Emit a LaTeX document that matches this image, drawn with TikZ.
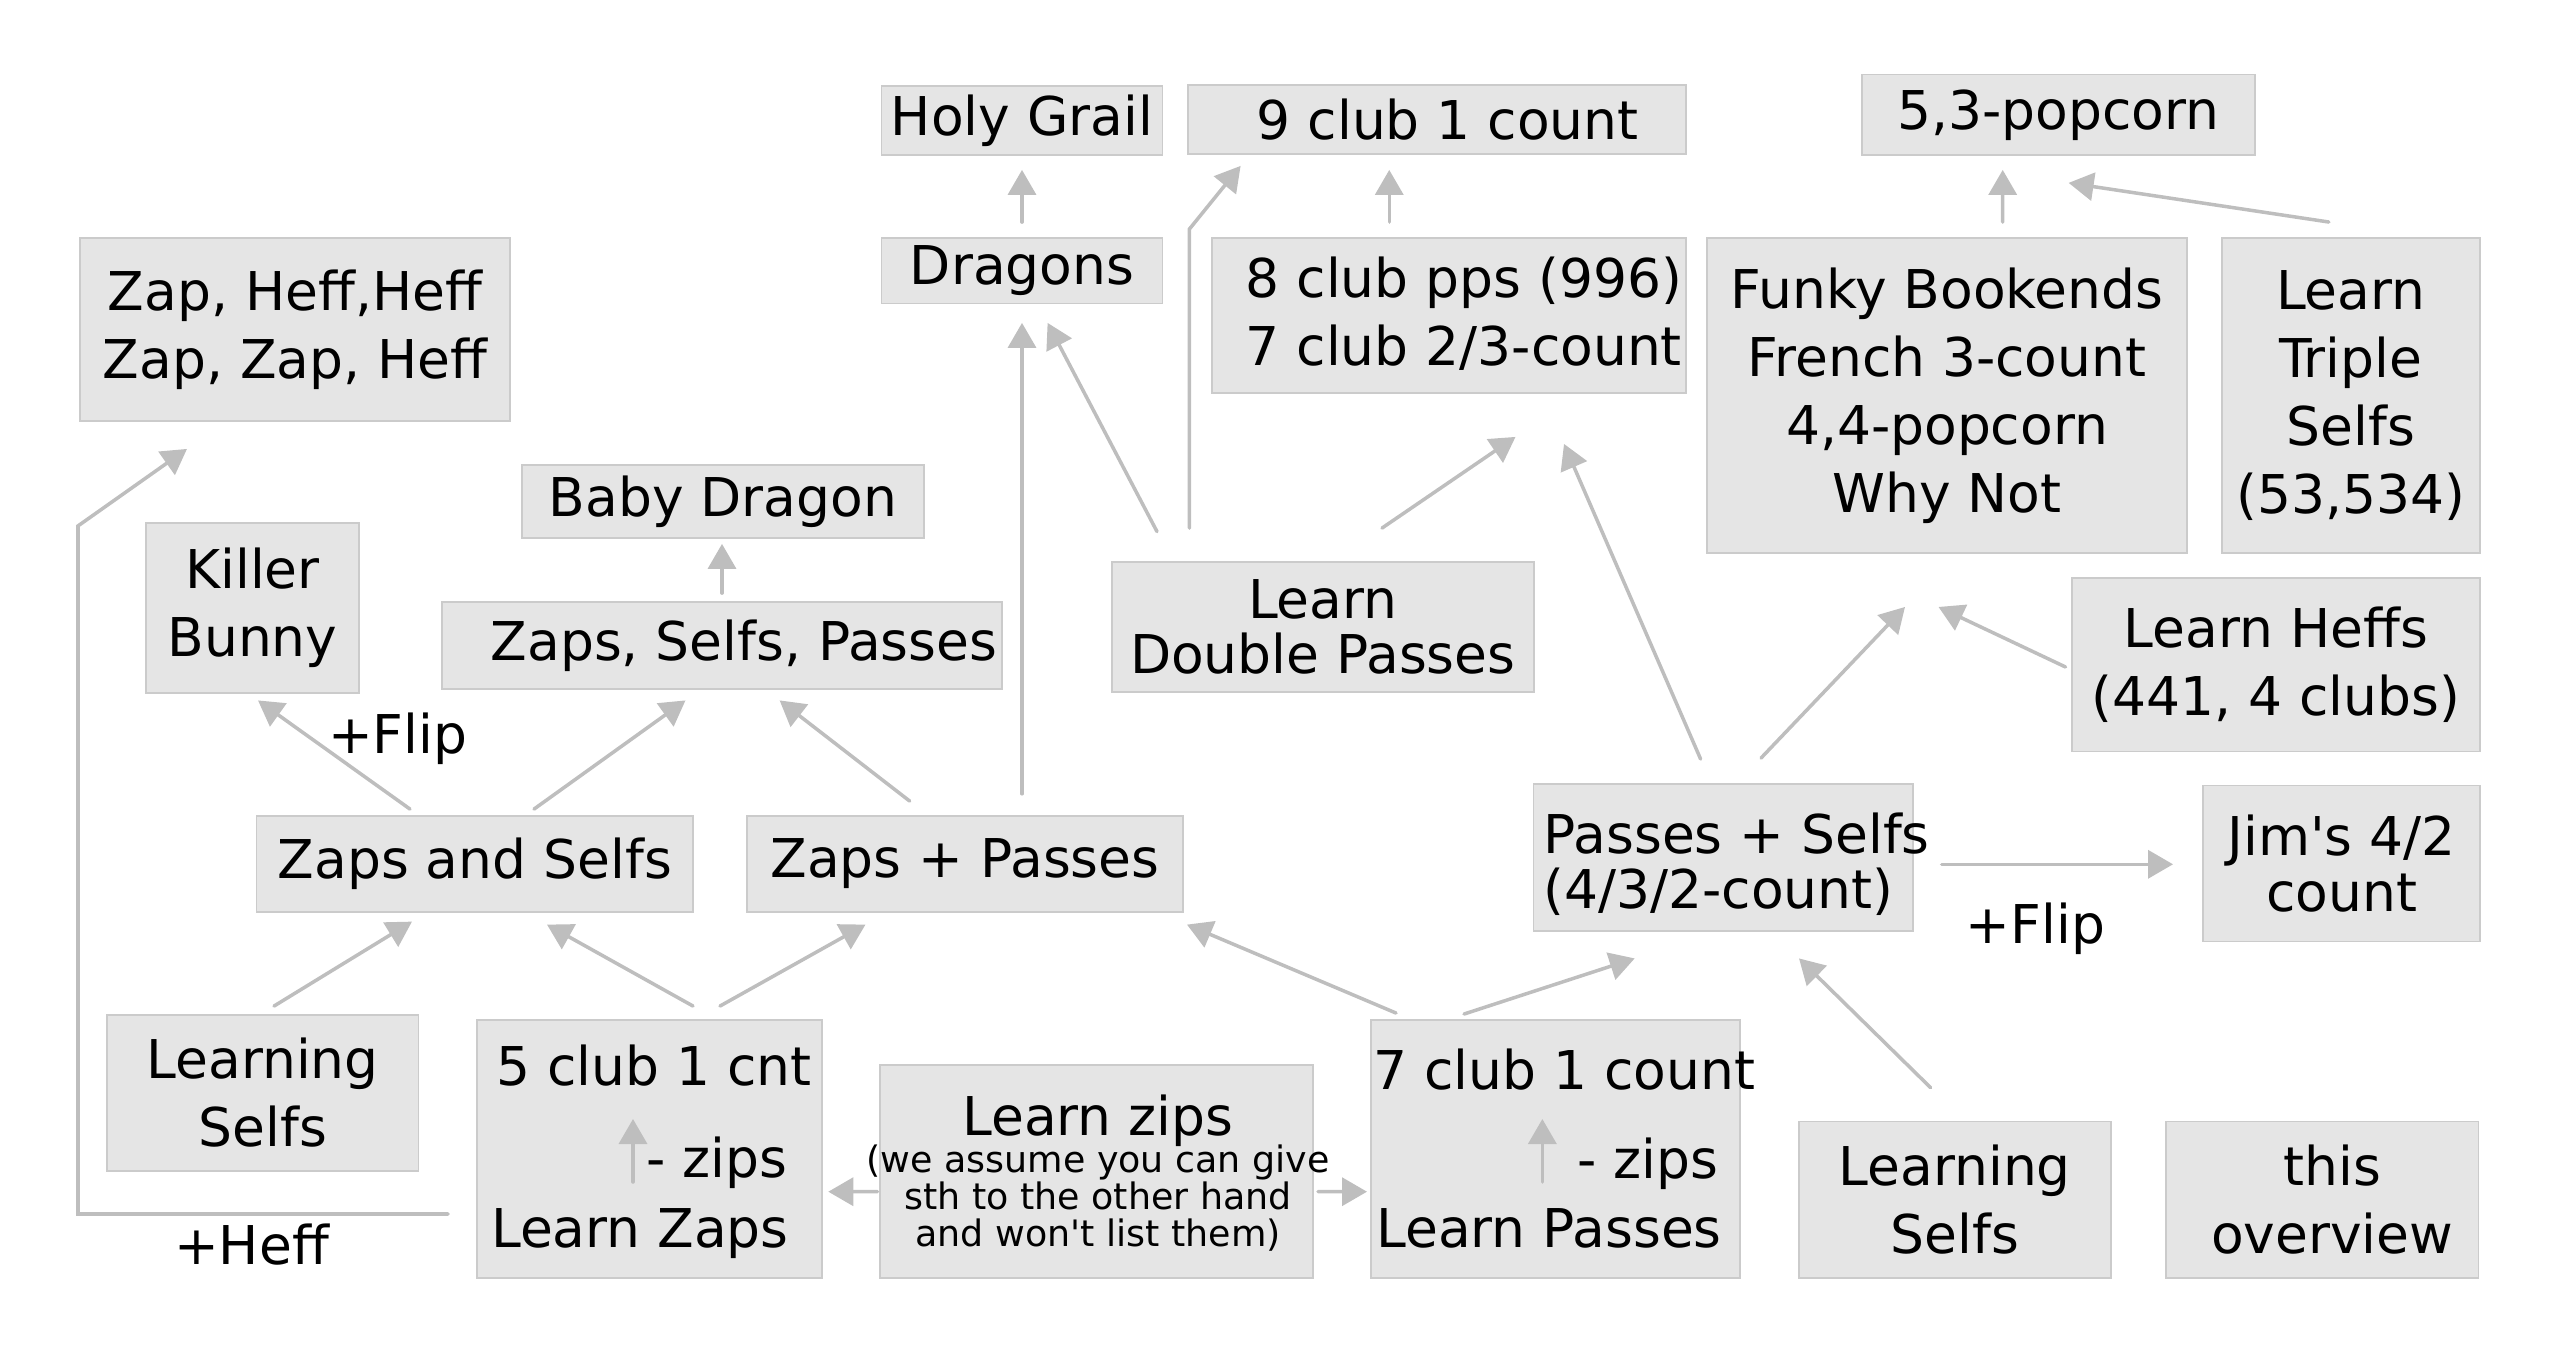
\documentclass[tikz,border=0pt]{standalone}
\usepackage{fontspec}
\setmainfont{DejaVu Sans}
\usepackage{xcolor}
\usetikzlibrary{arrows.meta,calc}

\definecolor{boxfill}{HTML}{E5E5E5}
\definecolor{boxline}{HTML}{CBCBCB}
\definecolor{arrgray}{HTML}{BEBEBE}

\begin{document}
\begin{tikzpicture}[x=0.01cm, y=-0.01cm, line cap=round,
  box/.style={draw=boxline, fill=boxfill, line width=0.5pt, inner sep=0pt, align=center,
    font=\fontsize{15.2pt}{19.35pt}\selectfont},
  tight/.style={font=\fontsize{15.2pt}{15.8pt}\selectfont},
  lbl/.style={inner sep=0pt, font=\fontsize{15.2pt}{19.35pt}\selectfont},
  arr/.style={draw=arrgray, line width=1pt, -{Triangle[length=0.25cm, width=0.28cm]}}]
  \useasboundingbox (0,0) rectangle (2560,1361);

  % ===== top rows =====
  \node[box, minimum width=2.81cm, minimum height=0.69cm] (hg) at (1022,120.5) {Holy Grail};
  \node[box, minimum width=2.81cm, minimum height=0.655cm] (drag) at (1022,270.75) {Dragons};
  \node[box, minimum width=4.975cm, minimum height=0.69cm] (nine) at (1436.75,119.5)
    {\hspace*{0.22cm}9 club 1 count};
  \node[box, minimum width=4.735cm, minimum height=1.55cm] (eight) at (1448.75,315.5) {};
  \node[lbl, anchor=west, align=left] (eighttxt) at (1245,314) {8 club pps (996)\\7 club 2/3-count};
  \node[box, minimum width=3.93cm, minimum height=0.804cm] (pop53) at (2058.5,114.8) {5,3-popcorn};
  \node[box, minimum width=4.80cm, minimum height=3.15cm] (funky) at (1947,395.5)
    {Funky Bookends\\French 3-count\\4,4-popcorn\\Why Not};
  \node[box, minimum width=2.58cm, minimum height=3.15cm] (ltr) at (2350.7,395.5)
    {Learn\\Triple\\Selfs\\(53,534)};
  \node[box, minimum width=4.30cm, minimum height=1.83cm] (zhh) at (295,329.5)
    {Zap, Heff,Heff\\Zap, Zap, Heff};

  % ===== middle rows =====
  \node[box, minimum width=2.13cm, minimum height=1.70cm] (kb) at (252.5,608) {Killer\\Bunny};
  \node[box, minimum width=4.02cm, minimum height=0.73cm] (bd) at (723,501.5) {Baby Dragon};
  \node[box, minimum width=5.60cm, minimum height=0.87cm] (zsp) at (722,645.5)
    {\hspace*{0.44cm}Zaps, Selfs, Passes};
  \node[box, tight, minimum width=4.22cm, minimum height=1.30cm] (ldp) at (1322.75,627)
    {Learn\\Double Passes};
  \node[box, minimum width=4.08cm, minimum height=1.735cm] (lh) at (2276,664.75)
    {Learn Heffs\\(441, 4 clubs)};
  \node[box, minimum width=4.363cm, minimum height=0.963cm] (zas) at (474.85,863.85) {Zaps and Selfs};
  \node[box, minimum width=4.36cm, minimum height=0.963cm] (zap) at (965,863.85) {Zaps + Passes};
  \node[box, minimum width=3.793cm, minimum height=1.466cm] (ps) at (1723.35,857.3) {};
  \node[lbl, tight, anchor=west, align=left] (pstxt) at (1543,864) {Passes + Selfs\\(4/3/2-count)};
  \node[box, tight, minimum width=2.77cm, minimum height=1.56cm] (jim) at (2341.5,863.45)
    {Jim\textquotesingle s 4/2\\count};

  % ===== bottom row =====
  \node[box, minimum width=3.115cm, minimum height=1.562cm] (ls1) at (262.75,1092.9) {Learning\\Selfs};
  \node[box, minimum width=3.45cm, minimum height=2.572cm] (five) at (649.5,1149) {};
  \node[lbl, anchor=base] (fivetop) at (653.75,1085.5) {5 club 1 cnt};
  \node[lbl, anchor=base] (fivezip) at (716.5,1177.8) {- zips};
  \node[lbl, anchor=base] (fivebot) at (640,1247) {Learn Zaps};
  \node[box, minimum width=4.332cm, minimum height=2.126cm] (lzip) at (1096.4,1171.3) {};
  \node[lbl, align=center, font=\fontsize{10.35pt}{10.5pt}\selectfont] (lziptxt) at (1098,1173)
    {{\fontsize{15.2pt}{19.35pt}\selectfont Learn zips}\\[-1.3pt]
     (we assume you can give\\sth to the other hand\\and won\textquotesingle t list them)};
  \node[box, minimum width=3.687cm, minimum height=2.572cm] (seven) at (1555.35,1149) {};
  \node[lbl, anchor=base] (seventop) at (1564,1089.8) {7 club 1 count};
  \node[lbl, anchor=base] (sevenzip) at (1647.5,1178.7) {- zips};
  \node[lbl, anchor=base] (sevenbot) at (1549,1247) {Learn Passes};
  \node[box, minimum width=3.117cm, minimum height=1.561cm] (ls2) at (1954.85,1199.55) {Learning\\Selfs};
  \node[box, minimum width=3.124cm, minimum height=1.561cm] (ovw) at (2322.2,1199.55)
    {\hspace*{0.2cm}this\\\hspace*{0.2cm}overview};

  % ===== edge labels =====
  \node[lbl] (flipl) at (397.7,738.7) {+Flip};
  \node[lbl] (flipr) at (2035.5,929) {+Flip};
  \node[lbl] (heff) at (251.5,1244.5) {+Heff};

  % ===== arrows =====
  \draw[arr] ($(drag.north)+(0,-15)$) -- ($(hg.south)+(0,14)$);
  \draw[arr] ($(eight.north)+(-59.5,-15)$) -- ($(nine.south)+(-47.5,15)$);
  \draw[arr] ($(funky.north)+(55.7,-15)$) -- ($(pop53.south)+(-55.8,14)$);
  \draw[arr] ($(ltr.north)+(-21.9,-15)$) -- ($(pop53.south)+(10.1,27)$);
  \draw[arr] ($(zsp.north)+(0,-8)$) -- ($(bd.south)+(-1,5)$);
  \draw[arr] ($(zap.north)+(57,-21)$) -- ($(drag.south)+(0,18.5)$);
  \draw[arr] ($(ldp.north)+(-165.75,-29.5)$) -- ($(drag.south)+(25.6,18.5)$);
  \draw[arr] ($(ldp.north)+(-133.35,-33)$) -- ($(ldp.north)+(-133.35,-332)$)
    -- ($(nine.south)+(-196.15,11)$);
  \draw[arr] ($(ldp.north)+(59.25,-33)$) -- ($(eight.south)+(66.75,43)$);
  \draw[arr] ($(ps.north)+(-22.75,-24)$) -- ($(eight.south)+(115.25,50)$);
  \draw[arr] ($(ps.north)+(37.65,-25)$) -- ($(funky.south)+(-42,53)$);
  \draw[arr] ($(lh.west)+(-5.5,2.25)$) -- ($(funky.south)+(-8.5,53)$);
  \draw[arr] ($(ps.east)+(27.7,7)$) -- ($(jim.west)+(-29,0.85)$);
  \draw[arr] ($(zas.north)+(-64.85,-5.7)$) -- ($(kb.south)+(5.5,6.5)$);
  \draw[arr] ($(zas.north)+(59.15,-5.7)$) -- ($(zsp.south)+(-36.5,10.5)$);
  \draw[arr] ($(zap.north)+(-55.3,-13.7)$) -- ($(zsp.south)+(57.6,10.5)$);
  \draw[arr] ($(ls1.north)+(11.25,-7.8)$) -- ($(zas.south)+(-62.85,8.7)$);
  \draw[arr] ($(five.north)+(43.5,-13.4)$) -- ($(zas.south)+(72.15,11.7)$);
  \draw[arr] ($(five.north)+(70.5,-13.4)$) -- ($(zap.south)+(-99.5,11.7)$);
  \draw[arr] ($(seven.north)+(-159.35,-6.4)$) -- ($(zap.south)+(222,11.7)$);
  \draw[arr] ($(seven.north)+(-91.35,-5.4)$) -- ($(ps.south)+(-88.65,26.9)$);
  \draw[arr] ($(ls2.north)+(-24.35,-33)$) -- ($(ps.south)+(75.65,26.9)$);
  \draw[arr] ($(lzip.west)+(-1.3,20.4)$) -- ($(five.east)+(5.3,42.7)$);
  \draw[arr] ($(lzip.east)+(4,20.4)$) -- ($(seven.west)+(-3,42.7)$);
  \draw[arr] ($(five.west)+(-28,65)$) -| ($(zhh.south)+(-217,104)$) -- ($(zhh.south)+(-108,27)$);
  % small arrows inside the boxes
  \draw[arr] ($(five.center)+(-16.5,33)$) -- ($(five.center)+(-16.5,-30)$);
  \draw[arr] ($(seven.center)+(-13,33)$) -- ($(seven.center)+(-13,-30)$);
\end{tikzpicture}
\end{document}
